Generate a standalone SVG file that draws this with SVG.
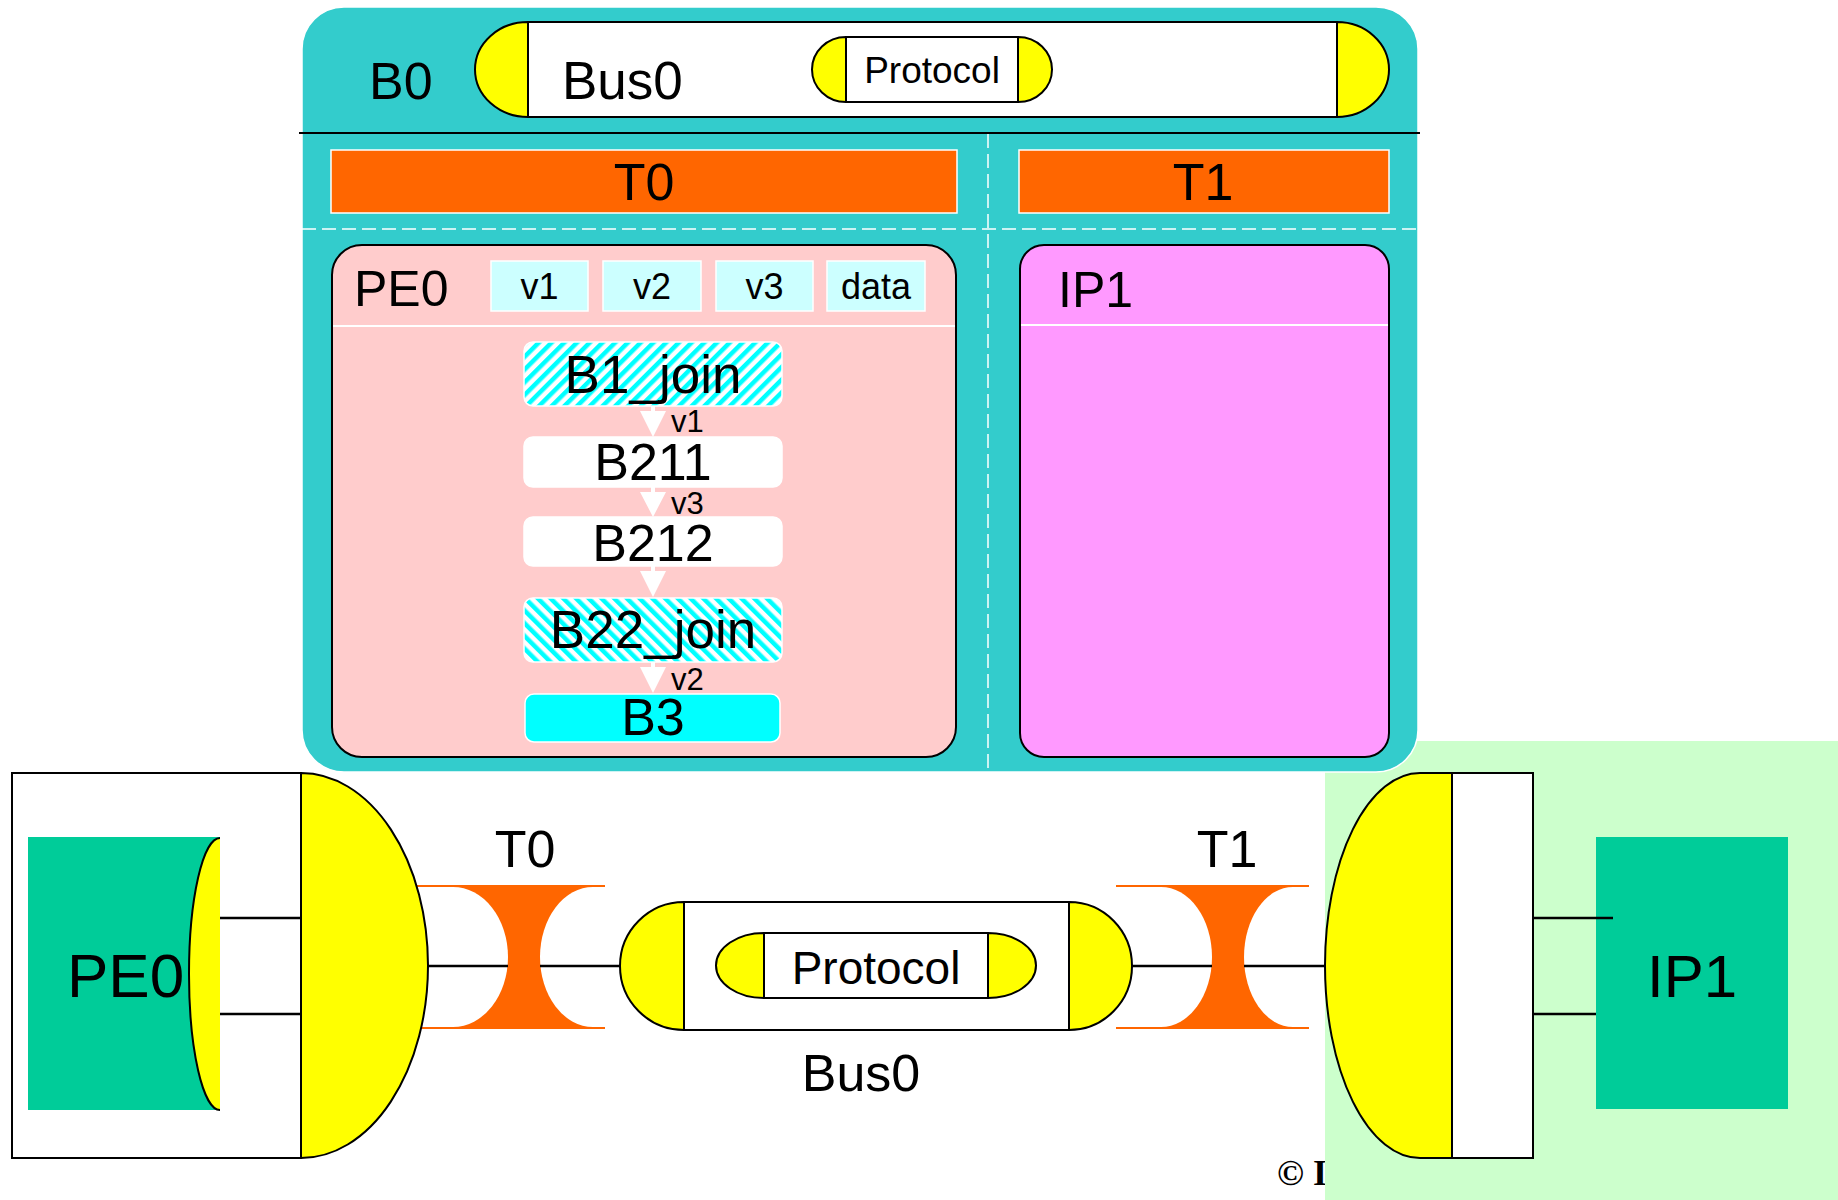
<svg xmlns="http://www.w3.org/2000/svg" width="1838" height="1200" viewBox="0 0 1838 1200">
<defs>
<style>
text{font-family:"Liberation Sans",Arial,sans-serif;fill:#000}
.yel{fill:#FFFF00;stroke:#000;stroke-width:2}
.wbox{fill:#fff;stroke:#000;stroke-width:2}
.blk{fill:none;stroke:#000;stroke-width:2.5}
.var{fill:#CCFFFF;stroke:#fff;stroke-width:1.5}
.blkn{stroke:#fff;stroke-width:1.5}
.wdash{stroke:#fff;stroke-width:1.5;stroke-dasharray:14 6;fill:none}
.arr{fill:#fff}
.org{fill:#FF6600}
</style>
<pattern id="stripeR" width="9" height="9" patternUnits="userSpaceOnUse" patternTransform="rotate(45)">
<rect width="9" height="9" fill="#fff"/><rect width="4.5" height="9" fill="#00FFFF"/>
</pattern>
<pattern id="stripeL" width="9" height="9" patternUnits="userSpaceOnUse" patternTransform="rotate(-45)">
<rect width="9" height="9" fill="#fff"/><rect width="4.5" height="9" fill="#00FFFF"/>
</pattern>
</defs>
<rect width="1838" height="1200" fill="#fff"/>
<text x="1277" y="1185" style="font-family:'Liberation Serif','Times New Roman',serif;font-weight:bold;font-size:36px">© I</text>
<rect id="bg-green" x="1325" y="741" width="513" height="459" fill="#CCFFCC"/>

<g id="B0">
<rect x="302" y="7" width="1116" height="765" rx="42" ry="42" fill="#33CCCC" stroke="#fff" stroke-width="1.5"/>
<line x1="299" y1="133" x2="1420" y2="133" stroke="#000" stroke-width="2"/>
<line class="wdash" x1="988" y1="134" x2="988" y2="772"/>
<line class="wdash" x1="302" y1="229" x2="1418" y2="229"/>
<text x="369" y="99" font-size="52">B0</text>
</g>

<g id="Bus0-top">
<rect class="wbox" x="528" y="22" width="809" height="95"/>
<path class="yel" d="M528,22 A53,47.5 0 0 0 528,117 Z"/>
<path class="yel" d="M1337,22 A52,47.5 0 0 1 1337,117 Z"/>
<text x="562" y="99" font-size="53">Bus0</text>
<rect class="wbox" x="846" y="37" width="172" height="65"/>
<path class="yel" d="M846,37 A34,32.5 0 0 0 846,102 Z"/>
<path class="yel" d="M1018,37 A34,32.5 0 0 1 1018,102 Z"/>
<text x="932" y="83" font-size="37" text-anchor="middle">Protocol</text>
</g>

<g id="T0-top">
<rect class="org" x="331" y="150" width="626" height="63" stroke="#fff" stroke-width="1.5"/>
<text x="644" y="200" font-size="52" text-anchor="middle">T0</text>
</g>
<g id="T1-top">
<rect class="org" x="1019" y="150" width="370" height="63" stroke="#fff" stroke-width="1.5"/>
<text x="1203" y="200" font-size="52" text-anchor="middle">T1</text>
</g>

<g id="PE0-top">
<rect x="332" y="245" width="624" height="512" rx="30" ry="30" fill="#FFCCCC" stroke="#000" stroke-width="2"/>
<line x1="333" y1="326" x2="955" y2="326" stroke="#fff" stroke-width="2"/>
<text x="354" y="306" font-size="50">PE0</text>
</g>
<g id="var-v1"><rect class="var" x="491" y="261" width="97" height="50"/><text x="539.5" y="299" font-size="36" text-anchor="middle">v1</text></g>
<g id="var-v2"><rect class="var" x="603" y="261" width="98" height="50"/><text x="652" y="299" font-size="36" text-anchor="middle">v2</text></g>
<g id="var-v3"><rect class="var" x="716" y="261" width="97" height="50"/><text x="764.5" y="299" font-size="36" text-anchor="middle">v3</text></g>
<g id="var-data"><rect class="var" x="827" y="261" width="98" height="50"/><text x="876" y="299" font-size="36" text-anchor="middle">data</text></g>

<g id="B1_join"><rect class="blkn" x="524" y="342" width="258" height="64" rx="9" fill="url(#stripeR)"/><text x="653" y="393" font-size="53" text-anchor="middle">B1_join</text></g>
<g id="B211"><rect class="blkn" x="524" y="437" width="258" height="50" rx="9" fill="#fff"/><text x="653" y="480" font-size="52" text-anchor="middle">B211</text></g>
<g id="B212"><rect class="blkn" x="524" y="517" width="258" height="49" rx="9" fill="#fff"/><text x="653" y="561" font-size="52" text-anchor="middle">B212</text></g>
<g id="B22_join"><rect class="blkn" x="524" y="598" width="258" height="64" rx="9" fill="url(#stripeL)"/><text x="653" y="648" font-size="53" text-anchor="middle">B22_join</text></g>
<g id="B3"><rect class="blkn" x="525" y="694" width="255" height="48" rx="9" fill="#00FFFF"/><text x="653" y="735" font-size="52" text-anchor="middle">B3</text></g>

<g id="IP1-top">
<rect x="1020" y="245" width="369" height="512" rx="24" ry="24" fill="#FF99FF" stroke="#000" stroke-width="2"/>
<line x1="1021" y1="325" x2="1388" y2="325" stroke="#fff" stroke-width="2"/>
<text x="1058" y="307" font-size="50">IP1</text>
</g>

<g id="T0-channel">
<rect class="org" x="417" y="885" width="188" height="144"/>
<path d="M417,887 H453 A55,70 0 0 1 453,1027 H417 Z" fill="#fff"/>
<path d="M605,887 H593 A53,70 0 0 0 593,1027 H605 Z" fill="#fff"/>
<text x="525" y="867" font-size="52" text-anchor="middle">T0</text>
</g>

<g id="T1-channel">
<rect class="org" x="1116" y="885" width="193" height="144"/>
<path d="M1116,887 H1161 A51,70 0 0 1 1161,1027 H1116 Z" fill="#fff"/>
<path d="M1309,887 H1293 A49,70 0 0 0 1293,1027 H1309 Z" fill="#fff"/>
<text x="1227" y="867" font-size="52" text-anchor="middle">T1</text>
</g>

<g id="PE0-module">
<rect class="wbox" x="12" y="773" width="289" height="385"/>
<path class="yel" d="M301,773 A127,192.5 0 0 1 301,1158 Z"/>
<rect x="28" y="837" width="192" height="273" fill="#00CC99"/>
<path d="M220,838 A31,136 0 0 0 220,1110 Z" fill="#FFFF00"/>
<path d="M220,838 A31,136 0 0 0 220,1110" fill="none" stroke="#000" stroke-width="2"/>
<text x="67" y="997" font-size="62">PE0</text>
</g>

<g id="Bus0-bottom">
<rect class="wbox" x="684" y="902" width="385" height="128"/>
<path class="yel" d="M684,902 A64,64 0 0 0 684,1030 Z"/>
<path class="yel" d="M1069,902 A63,64 0 0 1 1069,1030 Z"/>
<rect class="wbox" x="764" y="933" width="224" height="65"/>
<path class="yel" d="M764,933 A48,32.5 0 0 0 764,998 Z"/>
<path class="yel" d="M988,933 A48,32.5 0 0 1 988,998 Z"/>
<text x="876" y="984" font-size="46" text-anchor="middle">Protocol</text>
<text x="861" y="1091" font-size="52" text-anchor="middle">Bus0</text>
</g>

<g id="IP1-module">
<rect class="wbox" x="1452" y="773" width="81" height="385"/>
<path class="yel" d="M1452,773 H1420 A95,192.5 0 0 0 1420,1158 H1452 Z"/>
<rect x="1596" y="837" width="192" height="272" fill="#00CC99"/>
<text x="1692" y="997" font-size="60" text-anchor="middle">IP1</text>
</g>

<g id="connectors">
<g class="arr">
<path d="M651,406 H655 V411 H666 L653,437 L640,411 H651 Z"/>
<path d="M651,487 H655 V492 H666 L653,517 L640,492 H651 Z"/>
<path d="M651,566 H655 V571 H666 L653,597 L640,571 H651 Z"/>
<path d="M651,662 H655 V667 H666 L653,693 L640,667 H651 Z"/>
</g>
<text x="671" y="432" font-size="31">v1</text>
<text x="671" y="514" font-size="31">v3</text>
<text x="671" y="690" font-size="31">v2</text>
<line class="blk" x1="220" y1="918" x2="301" y2="918"/>
<line class="blk" x1="220" y1="1014" x2="301" y2="1014"/>
<line class="blk" x1="428" y1="966" x2="508" y2="966"/>
<line class="blk" x1="540" y1="966" x2="620" y2="966"/>
<line class="blk" x1="1132" y1="966" x2="1212" y2="966"/>
<line class="blk" x1="1244" y1="966" x2="1325" y2="966"/>
<line class="blk" x1="1533" y1="918" x2="1613" y2="918"/>
<line class="blk" x1="1533" y1="1014" x2="1596" y2="1014"/>
</g>
</svg>
